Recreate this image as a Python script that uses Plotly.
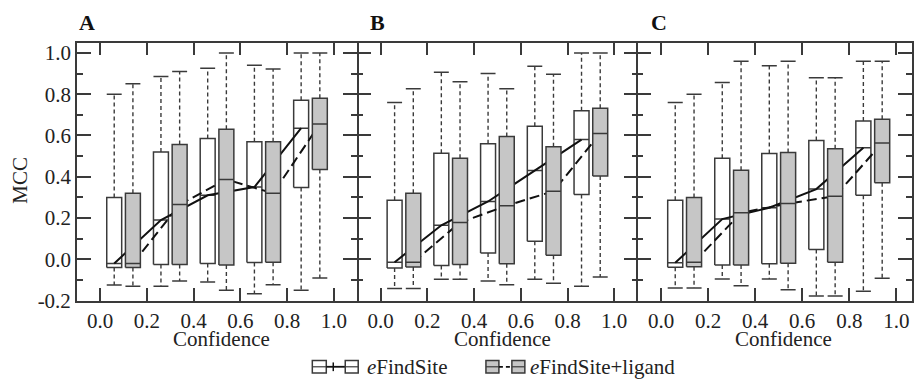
import plotly.graph_objects as go

W, H = 914, 387

# ---------------- data ----------------
bin_centers = [0.1, 0.3, 0.5, 0.7, 0.9]
x_ticks = [0.0, 0.2, 0.4, 0.6, 0.8, 1.0]
x_ticktext = ["0.0", "0.2", "0.4", "0.6", "0.8", "1.0"]
y_ticks = [-0.2, 0.0, 0.2, 0.4, 0.6, 0.8, 1.0]
y_ticktext = ["-0.2", "0.0", "0.2", "0.4", "0.6", "0.8", "1.0"]
y_minor = [-0.1, 0.1, 0.3, 0.5, 0.7, 0.9]
panel_labels = ["A", "B", "C"]
series_names = ["<i>e</i>FindSite", "<i>e</i>FindSite+ligand"]

# Panel A
wA_upper = [0.80, 0.885, 0.925, 0.94, 1.0]
wA_q3 = [0.30, 0.52, 0.585, 0.57, 0.77]
wA_med = [-0.02, 0.19, 0.31, 0.35, 0.635]
wA_q1 = [-0.04, -0.025, -0.02, -0.015, 0.348]
wA_lower = [-0.125, -0.13, -0.11, -0.167, -0.15]
gA_upper = [0.85, 0.91, 1.0, 0.922, 1.0]
gA_q3 = [0.32, 0.556, 0.63, 0.57, 0.78]
gA_med = [-0.02, 0.265, 0.387, 0.32, 0.656]
gA_q1 = [-0.04, -0.025, -0.027, -0.014, 0.435]
gA_lower = [-0.13, -0.105, -0.15, -0.123, -0.09]

# Panel B
wB_upper = [0.76, 0.906, 0.90, 0.935, 1.0]
wB_q3 = [0.286, 0.514, 0.56, 0.645, 0.72]
wB_med = [-0.014, 0.165, 0.28, 0.43, 0.58]
wB_q1 = [-0.042, -0.03, 0.03, 0.087, 0.314]
wB_lower = [-0.142, -0.097, -0.105, -0.097, -0.131]
gB_upper = [0.826, 0.86, 0.826, 0.896, 1.0]
gB_q3 = [0.32, 0.49, 0.595, 0.545, 0.732]
gB_med = [-0.014, 0.178, 0.26, 0.33, 0.61]
gB_q1 = [-0.037, -0.025, -0.022, 0.02, 0.404]
gB_lower = [-0.142, -0.097, -0.123, -0.116, -0.086]

# Panel C
wC_upper = [0.76, 0.856, 0.938, 0.88, 0.959]
wC_q3 = [0.286, 0.49, 0.512, 0.575, 0.67]
wC_med = [-0.017, 0.195, 0.25, 0.34, 0.54]
wC_q1 = [-0.039, -0.027, -0.022, 0.048, 0.31]
wC_lower = [-0.139, -0.095, -0.095, -0.178, -0.155]
gC_upper = [0.80, 0.959, 0.959, 0.88, 0.959]
gC_q3 = [0.30, 0.431, 0.517, 0.535, 0.678]
gC_med = [-0.014, 0.225, 0.27, 0.306, 0.563]
gC_q1 = [-0.036, -0.027, -0.019, -0.014, 0.371]
gC_lower = [-0.139, -0.128, -0.147, -0.178, -0.092]

panels = [
    ((wA_lower, wA_q1, wA_med, wA_q3, wA_upper), (gA_lower, gA_q1, gA_med, gA_q3, gA_upper)),
    ((wB_lower, wB_q1, wB_med, wB_q3, wB_upper), (gB_lower, gB_q1, gB_med, gB_q3, gB_upper)),
    ((wC_lower, wC_q1, wC_med, wC_q3, wC_upper), (gC_lower, gC_q1, gC_med, gC_q3, gC_upper)),
]

# ---------------- style ----------------
FONT = "Liberation Serif"
FS = 21
INK = "#222222"
EDGE = "#3a3a3a"
GRAY = "#c6c6c6"
OFFSET = 0.04
BOXW = 0.064

def px_x(p):
    return p / W

def px_y(p):
    return 1 - p / H

# panel pixel geometry
panel_px = [(77, 358), (358, 639), (639, 914)]
top_px, bot_px = 43, 310
x_ranges = [[-0.1, 1.1], [-0.1, 1.1], [-0.1, (914 - 663.3) / 235.0]]

fig = go.Figure()


def add_series(stats, pos, fill, xa, ya, layer):
    lower, q1, med, q3, upper = stats
    h = BOXW / 2
    if layer == "whisk":
        wx, wy, cx, cy = [], [], [], []
        for c, lo, a, b, up in zip(pos, lower, q1, q3, upper):
            wx += [c, c, None, c, c, None]
            wy += [b, up, None, a, lo, None]
            cx += [c - h, c + h, None, c - h, c + h, None]
            cy += [up, up, None, lo, lo, None]
        fig.add_trace(go.Scatter(x=wx, y=wy, mode="lines", xaxis=xa, yaxis=ya,
                                 line=dict(color=EDGE, width=1.4, dash="4px,3px"),
                                 hoverinfo="skip", showlegend=False))
        fig.add_trace(go.Scatter(x=cx, y=cy, mode="lines", xaxis=xa, yaxis=ya,
                                 line=dict(color=EDGE, width=1.5),
                                 hoverinfo="skip", showlegend=False))
    else:
        bx, by, mx, my = [], [], [], []
        for c, a, m, b in zip(pos, q1, med, q3):
            bx += [c - h, c + h, c + h, c - h, c - h, None]
            by += [a, a, b, b, a, None]
            mx += [c - h, c + h, None]
            my += [m, m, None]
        fig.add_trace(go.Scatter(x=bx, y=by, mode="lines", fill="toself", fillcolor=fill,
                                 xaxis=xa, yaxis=ya, line=dict(color=EDGE, width=1.5),
                                 hoverinfo="skip", showlegend=False))
        fig.add_trace(go.Scatter(x=mx, y=my, mode="lines", xaxis=xa, yaxis=ya,
                                 line=dict(color=EDGE, width=1.5),
                                 hoverinfo="skip", showlegend=False))


for i, (wstats, gstats) in enumerate(panels):
    xa = "x" if i == 0 else f"x{i+1}"
    ya = "y" if i == 0 else f"y{i+1}"
    wpos = [c - OFFSET for c in bin_centers]
    gpos = [c + OFFSET for c in bin_centers]
    add_series(wstats, wpos, "white", xa, ya, "box")
    add_series(wstats, wpos, "white", xa, ya, "whisk")
    add_series(gstats, gpos, GRAY, xa, ya, "whisk")
    fig.add_trace(go.Scatter(x=wpos, y=wstats[2], mode="lines", xaxis=xa, yaxis=ya,
                             line=dict(color="#111111", width=2),
                             hoverinfo="skip", showlegend=False))
    fig.add_trace(go.Scatter(x=gpos, y=gstats[2], mode="lines", xaxis=xa, yaxis=ya,
                             line=dict(color="#111111", width=2, dash="10px,5px"),
                             hoverinfo="skip", showlegend=False))
    add_series(gstats, gpos, GRAY, xa, ya, "box")

    x0, x1 = panel_px[i]
    xkey = "xaxis" if i == 0 else f"xaxis{i+1}"
    ykey = "yaxis" if i == 0 else f"yaxis{i+1}"
    fig.layout[xkey] = dict(
        domain=[px_x(x0), px_x(x1)], range=x_ranges[i], anchor=ya,
        tickmode="array", tickvals=x_ticks, ticktext=x_ticktext,
        ticks="inside", ticklen=13, tickwidth=1.5, tickcolor=EDGE,
        showline=True, linecolor=EDGE, linewidth=1.5, mirror="ticks",
        showgrid=False, zeroline=False,
        tickfont=dict(family=FONT, size=FS, color=INK),
    )
    fig.layout[ykey] = dict(
        domain=[px_y(bot_px), px_y(top_px)], range=[-0.2, 1.05], anchor=xa,
        tickmode="array", tickvals=y_ticks, ticktext=y_ticktext,
        ticks="inside", ticklen=14, tickwidth=1.5, tickcolor=EDGE,
        minor=dict(tickmode="array", tickvals=y_minor, ticks="inside", ticklen=6,
                   tickwidth=1.5, tickcolor=EDGE, showgrid=False),
        showline=(i != 1), linecolor=EDGE, linewidth=1.5, mirror="ticks",
        showgrid=False, zeroline=False, showticklabels=(i == 0),
        tickfont=dict(family=FONT, size=FS, color=INK),
    )
    # panel label
    fig.add_annotation(text=f"<b>{panel_labels[i]}</b>", xref="paper", yref="paper",
                       x=px_x(x0 + (0 if i == 0 else 11)), y=px_y(37),
                       xanchor="left", yanchor="bottom", showarrow=False,
                       font=dict(family=FONT, size=22, color="#111111"))
    # x title
    fig.add_annotation(text="Confidence", xref=xa, yref="paper", x=0.52, y=px_y(350),
                       xanchor="center", yanchor="middle", showarrow=False,
                       font=dict(family=FONT, size=FS, color=INK))

# y title
fig.add_annotation(text="MCC", xref="paper", yref="paper", x=px_x(20), y=px_y(185),
                   textangle=-90, xanchor="center", yanchor="middle", showarrow=False,
                   font=dict(family=FONT, size=FS, color=INK))

# legend (drawn manually)
ly0, ly1 = 372, 385
lym = (ly0 + ly1) / 2
shapes = []

def legend_box(xa0, xa1, fill):
    shapes.append(dict(type="rect", xref="paper", yref="paper",
                       x0=px_x(xa0), x1=px_x(xa1), y0=px_y(ly1), y1=px_y(ly0),
                       fillcolor=fill, line=dict(color=EDGE, width=1.5)))
    shapes.append(dict(type="line", xref="paper", yref="paper",
                       x0=px_x(xa0), x1=px_x(xa1), y0=px_y(lym), y1=px_y(lym),
                       line=dict(color=EDGE, width=1.2)))

legend_box(313, 327, "white")
shapes.append(dict(type="line", xref="paper", yref="paper", x0=px_x(327), x1=px_x(346),
                   y0=px_y(lym), y1=px_y(lym), line=dict(color="#111111", width=1.8)))
shapes.append(dict(type="line", xref="paper", yref="paper", x0=px_x(334), x1=px_x(334),
                   y0=px_y(ly0 + 2), y1=px_y(ly1 - 2), line=dict(color="#111111", width=1.5)))
legend_box(346, 359, "white")

legend_box(487, 500, GRAY)
shapes.append(dict(type="line", xref="paper", yref="paper", x0=px_x(500), x1=px_x(513),
                   y0=px_y(lym), y1=px_y(lym),
                   line=dict(color="#111111", width=1.8, dash="4px,3px")))
legend_box(513, 526, GRAY)

fig.add_annotation(text=series_names[0], xref="paper", yref="paper", x=px_x(366), y=px_y(lym),
                   xanchor="left", yanchor="middle", showarrow=False,
                   font=dict(family=FONT, size=FS, color=INK))
fig.add_annotation(text=series_names[1], xref="paper", yref="paper", x=px_x(529), y=px_y(lym),
                   xanchor="left", yanchor="middle", showarrow=False,
                   font=dict(family=FONT, size=FS, color=INK))

fig.update_layout(
    width=W, height=H, margin=dict(l=0, r=0, t=0, b=0),
    paper_bgcolor="white", plot_bgcolor="white",
    showlegend=False, shapes=shapes,
    font=dict(family=FONT, size=FS, color=INK),
)

fig.write_html("out.html")
